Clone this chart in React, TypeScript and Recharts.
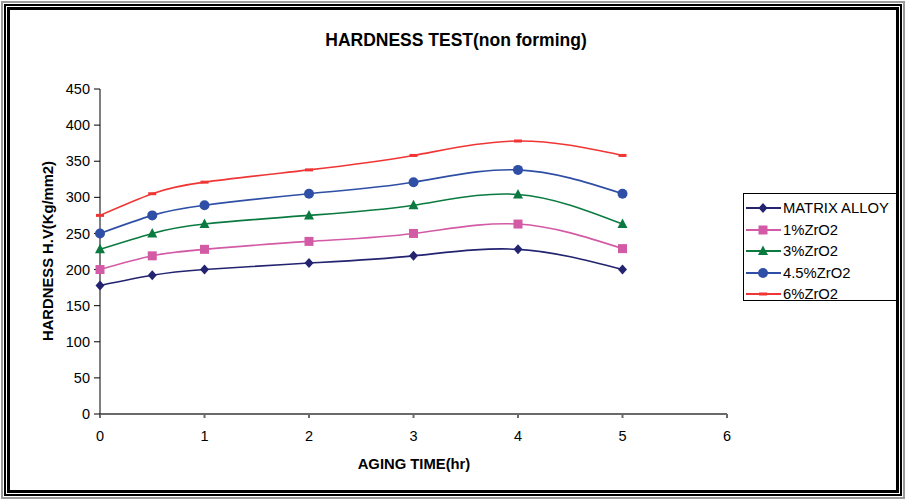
import React from 'react'
import { LineChart, Line, XAxis, YAxis } from 'recharts'

const agingTime = [0, 0.5, 1, 2, 3, 4, 5]
const matrixAlloy = [178, 192, 200, 209, 219, 228, 200]
const zro2_1 = [200, 219, 228, 239, 250, 263, 229]
const zro2_3 = [228, 250, 263, 275, 289, 304, 263]
const zro2_45 = [250, 275, 289, 305, 321, 338, 305]
const zro2_6 = [275, 305, 321, 338, 358, 378, 358]
const xTicks = [0, 1, 2, 3, 4, 5, 6]
const yTicks = [0, 50, 100, 150, 200, 250, 300, 350, 400, 450]

const data = agingTime.map((t, i) => ({
    t,
    matrix: matrixAlloy[i],
    z1: zro2_1[i],
    z3: zro2_3[i],
    z45: zro2_45[i],
    z6: zro2_6[i],
}))

const FONT = '"Liberation Sans", Arial, sans-serif'

type Marker = 'diamond' | 'square' | 'triangle' | 'circle' | 'dash'

const series: { key: string; name: string; color: string; marker: Marker }[] = [
    { key: 'matrix', name: 'MATRIX ALLOY', color: '#232370', marker: 'diamond' },
    { key: 'z1', name: '1%ZrO2', color: '#D35BA6', marker: 'square' },
    { key: 'z3', name: '3%ZrO2', color: '#0A7A40', marker: 'triangle' },
    { key: 'z45', name: '4.5%ZrO2', color: '#2E4FA5', marker: 'circle' },
    { key: 'z6', name: '6%ZrO2', color: '#F03535', marker: 'dash' },
]

function markerShape(marker: Marker, cx: number, cy: number, color: string, key?: string) {
    switch (marker) {
        case 'diamond':
            return <path key={key} d={`M${cx},${cy - 5}L${cx + 4.5},${cy}L${cx},${cy + 5}L${cx - 4.5},${cy}Z`} fill={color} />
        case 'square':
            return <rect key={key} x={cx - 4.5} y={cy - 4.5} width={9} height={9} fill={color} />
        case 'triangle':
            return <path key={key} d={`M${cx},${cy - 5.5}L${cx + 5},${cy + 4}L${cx - 5},${cy + 4}Z`} fill={color} />
        case 'circle':
            return <circle key={key} cx={cx} cy={cy} r={5} fill={color} />
        default:
            return <rect key={key} x={cx - 4} y={cy - 1.5} width={8} height={3} fill={color} />
    }
}

function LegendBox() {
    return (
        <div style={{ position: 'absolute', left: 743, top: 193, width: 154, height: 108, boxSizing: 'border-box', border: '1px solid #000', background: '#fff', fontFamily: FONT, fontSize: 14.8, color: '#000' }}>
            {series.map((s, i) => (
                <div key={s.key} style={{ position: 'absolute', left: 2, top: 5 + i * 21.6, height: 18, display: 'flex', alignItems: 'center', whiteSpace: 'nowrap' }}>
                    <svg width={36} height={16}>
                        <line x1={0} y1={8} x2={35} y2={8} stroke={s.color} strokeWidth={2} />
                        {markerShape(s.marker, 17, 8, s.color)}
                    </svg>
                    <span style={{ marginLeft: 1 }}>{s.name}</span>
                </div>
            ))}
        </div>
    )
}

export default function App() {
    return (
        <div style={{ position: 'absolute', left: 0, top: 0, width: 906, height: 500, background: '#fff' }}>
            <div style={{ position: 'absolute', left: 1, top: 1, width: 904, height: 498, border: '2px solid #9a9a9a', boxSizing: 'border-box' }} />
            <div style={{ position: 'absolute', left: 4, top: 4, width: 898, height: 492, border: '2px solid #000', boxSizing: 'border-box' }} />
            <div style={{ position: 'absolute', left: 7, top: 7, width: 892, height: 486, border: '3px solid #000', boxSizing: 'border-box' }} />
            <div style={{ position: 'absolute', left: 456, top: 40, transform: 'translate(-50%, -50%)', fontFamily: FONT, fontWeight: 'bold', fontSize: 17.5, whiteSpace: 'nowrap' }}>
                HARDNESS TEST(non forming)
            </div>
            <div style={{ position: 'absolute', left: 414, top: 464, transform: 'translate(-50%, -50%)', fontFamily: FONT, fontWeight: 'bold', fontSize: 14.8, whiteSpace: 'nowrap' }}>
                AGING TIME(hr)
            </div>
            <div style={{ position: 'absolute', left: 48, top: 251, transform: 'translate(-50%, -50%) rotate(-90deg)', fontFamily: FONT, fontWeight: 'bold', fontSize: 14.8, whiteSpace: 'nowrap' }}>
                HARDNESS H.V(Kg/mm2)
            </div>
            <div style={{ position: 'absolute', left: 0, top: 0 }}>
                <LineChart width={906} height={500} data={data} margin={{ top: 89, right: 179, bottom: 56, left: 40 }}>
                    <XAxis
                        dataKey="t"
                        type="number"
                        domain={[0, 6]}
                        ticks={xTicks}
                        height={30}
                        stroke="#6a6a6a"
                        strokeWidth={2}
                        tickSize={4}
                        tickMargin={13}
                        tick={{ fill: '#000', fontSize: 14.5, fontFamily: FONT }}
                    />
                    <YAxis
                        type="number"
                        domain={[0, 450]}
                        ticks={yTicks}
                        width={60}
                        stroke="#000"
                        tickSize={6}
                        tickMargin={4}
                        tick={{ fill: '#000', fontSize: 14.5, fontFamily: FONT }}
                    />
                    {series.map((s) => (
                        <Line
                            key={s.key}
                            dataKey={s.key}
                            name={s.name}
                            type="natural"
                            stroke={s.color}
                            strokeWidth={1.6}
                            isAnimationActive={false}
                            dot={(p: any) => markerShape(s.marker, p.cx, p.cy, s.color, `${s.key}-${p.index}`)}
                            activeDot={false}
                        />
                    ))}
                </LineChart>
            </div>
            <LegendBox />
        </div>
    )
}
